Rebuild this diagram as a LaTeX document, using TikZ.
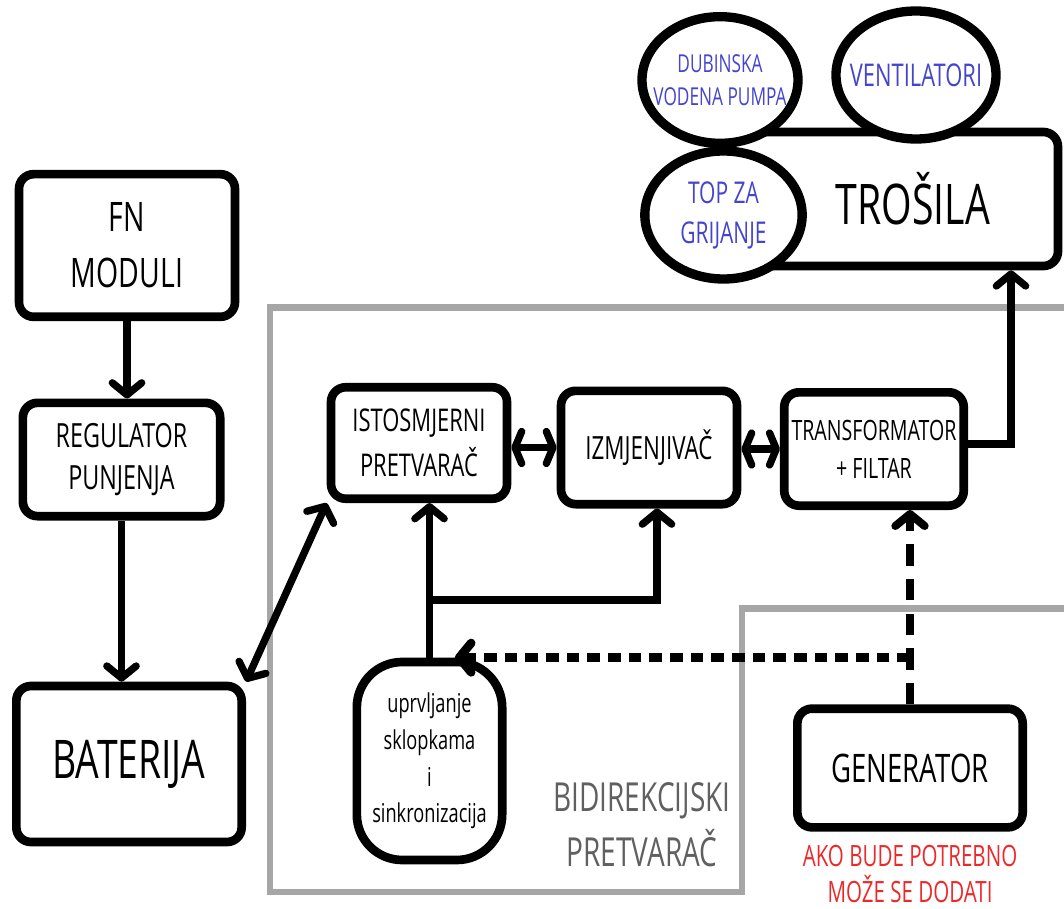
\documentclass[tikz,border=0pt]{standalone}
\usepackage{fontspec}
\setmainfont[FakeStretch=0.7]{Open Sans}
\usetikzlibrary{arrows.meta,shapes.geometric}
\definecolor{bluetxt}{RGB}{68,68,204}
\definecolor{redtxt}{RGB}{238,40,40}
\definecolor{grayline}{RGB}{166,166,166}
\definecolor{graytxt}{RGB}{96,96,96}
\newcommand{\fz}[2]{\fontsize{#1}{#2}\selectfont}
\begin{document}
\begin{tikzpicture}[x=0.75pt,y=-0.75pt,
  box/.style={draw,line width=6.5pt,rounded corners=11pt,fill=white,inner sep=0pt,align=center},
  oval/.style={ellipse,draw,line width=7pt,fill=white,inner sep=0pt,align=center,text=bluetxt},
  conn/.style={line width=5.5pt},
  tipb/.tip={Straight Barb[length=9pt,width=22pt,round]},
  tips/.tip={Straight Barb[length=5pt,width=24pt,round]},
  arr/.style={-tipb},
  darr/.style={tipb-tipb},
  sarr/.style={tips-tips},
  dshv/.style={line width=6pt,dash pattern=on 16pt off 10pt},
  dshh/.style={line width=6.5pt,dash pattern=on 9.5pt off 6pt},
  grayframe/.style={draw=grayline,line width=5pt},
  lbl/.style={align=center,inner sep=0pt}
]
\useasboundingbox (0,0) rectangle (1064,909);

% gray frame of the bidirectional converter
\draw[grayframe] (1064,307.5) -- (270,307.5) -- (270,892) -- (742,892) -- (742,608.5) -- (1064,608.5);

% consumers
\node[box,minimum width=244.5pt,minimum height=100.5pt,font=\fz{42pt}{50pt}] (tro) at (895,199) {\hspace*{27pt}TROŠILA};
\node[oval,inner xsep=-10pt,minimum width=117pt,minimum height=95pt,font=\fz{18.5pt}{25pt}] (dub) at (720,80) {DUBINSKA\\VODENA PUMPA};
\node[oval,inner xsep=-9pt,minimum width=120pt,minimum height=96pt,font=\fz{23.5pt}{28pt}] (vent) at (916,75) {VENTILATORI};
\node[oval,minimum width=118pt,minimum height=96pt,font=\fz{22.5pt}{30pt}] (topza) at (723.5,215) {TOP ZA\\GRIJANJE};

% left chain
\node[box,minimum width=162pt,minimum height=107pt,font=\fz{30.5pt}{42pt}] (fn) at (127,245.5) {FN\\MODULI};
\node[box,minimum width=148pt,minimum height=85pt,font=\fz{25pt}{32pt}] (reg) at (121.5,459.5) {REGULATOR\\PUNJENJA};
\node[box,minimum width=169pt,minimum height=117pt,font=\fz{40pt}{48pt}] (bat) at (129,764) {BATERIJA};

% converter blocks
\node[box,minimum width=132pt,minimum height=83.6pt,font=\fz{23.5pt}{34pt}] (isto) at (419,443) {ISTOSMJERNI\\PRETVARAČ};
\node[box,minimum width=132pt,minimum height=85pt,font=\fz{24pt}{30pt}] (izmj) at (649,447.5) {IZMJENJIVAČ};
\node[box,minimum width=134.6pt,minimum height=85pt,font=\fz{21pt}{28.5pt}] (trans) at (874,449) {TRANSFORMATOR\\+ FILTAR};
\node[box,rounded corners=34pt,minimum width=109pt,minimum height=148.5pt,font=\fz{19.5pt}{27.5pt}] (ctrl) at (429.5,761) {uprvljanje\\sklopkama\\i\\sinkronizacija};
\node[box,minimum width=169pt,minimum height=89pt,font=\fz{29.5pt}{36pt}] (gen) at (910,768) {GENERATOR};

% labels
\node[lbl,text=graytxt,font=\fz{30pt}{41pt}] (bidir) at (642,825) {BIDIREKCIJSKI\\PRETVARAČ};
\node[lbl,text=redtxt,font=\fz{22pt}{27pt}] (note) at (910,874) {AKO BUDE POTREBNO\\MOŽE SE DODATI};

% connectors
\draw[conn,arr] (fn.south) -- (fn.south |- reg.north);
\draw[conn,arr] (reg.south) -- (reg.south |- bat.north);
\draw[conn,darr] (bat.north east) -- (isto.south west);
\draw[conn,sarr] (izmj.west -| isto.east) -- (izmj.west);
\draw[conn,sarr] (trans.west -| izmj.east) -- (trans.west);
\draw[conn,arr,line join=miter] ([yshift=3.75pt]trans.east) -| ([xshift=87pt]tro.south);
\draw[conn,arr] (ctrl.north) -- (ctrl.north |- isto.south);
\coordinate (br) at (429.5,600);
\draw[conn,arr] (br) -| ([xshift=6pt]izmj.south);
\draw[dshv,arr] (gen.north) -- (gen.north |- trans.south);
\coordinate (dj) at (gen.north |- ctrl.north);
\draw[dshh,arr] (dj) -- ([xshift=19pt]ctrl.north);
\end{tikzpicture}
\end{document}
